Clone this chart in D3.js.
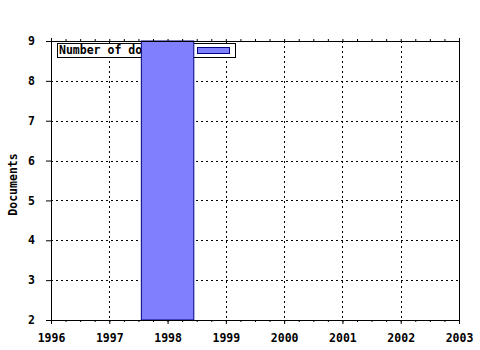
<!DOCTYPE html>
<html>
<head>
<meta charset="utf-8">
<script src="https://cdn.jsdelivr.net/npm/d3@7"></script>
<style>
  body { margin: 0; background: #fff; }
  text { font-family: "DejaVu Sans Mono", monospace; font-weight: bold; font-size: 11.5px; fill: #000; }
</style>
</head>
<body>
<div id="chart"></div>
<script>
// data
const years = [1998];
const counts = [9];
const seriesName = "Number of documents";
const xTicks = [1996, 1997, 1998, 1999, 2000, 2001, 2002, 2003];
const yTicks = [2, 3, 4, 5, 6, 7, 8, 9];

const W = 480, H = 350;
const margin = { top: 41, right: 21, bottom: 30, left: 51 };
const width = W - margin.left - margin.right;
const height = H - margin.top - margin.bottom;

const svg = d3.select("#chart").append("svg")
  .attr("width", W).attr("height", H);

const g = svg.append("g")
  .attr("transform", "translate(" + margin.left + "," + margin.top + ")");

const x = d3.scaleLinear().domain([1996, 2003]).range([0, width]);
const y = d3.scaleLinear().domain([2, 9]).range([height, 0]);

// grid
g.selectAll(".vgrid").data(xTicks.slice(1, -1)).enter().append("line")
  .attr("x1", d => Math.round(x(d)) + 0.5).attr("x2", d => Math.round(x(d)) + 0.5)
  .attr("y1", 0).attr("y2", height)
  .attr("stroke", "#000").attr("stroke-dasharray", "2,3");

g.selectAll(".hgrid").data(yTicks.slice(1, -1)).enter().append("line")
  .attr("y1", d => Math.round(y(d)) + 0.5).attr("y2", d => Math.round(y(d)) + 0.5)
  .attr("x1", 0).attr("x2", width)
  .attr("stroke", "#000").attr("stroke-dasharray", "2,3");

// legend (bar is drawn over it, as in the original)
const legend = g.append("g").attr("transform", "translate(6,2)");
legend.append("rect")
  .attr("x", 0.5).attr("y", 0.5).attr("width", 178).attr("height", 14)
  .attr("fill", "#fff").attr("stroke", "#000");
legend.append("text").attr("x", 2).attr("y", 11).text(seriesName);
legend.append("rect")
  .attr("x", 140.5).attr("y", 4.5).attr("width", 32).attr("height", 6)
  .attr("fill", "#8080ff").attr("stroke", "#000080");

// bars
const bw = x(1996.9) - x(1996);
g.selectAll(".bar").data(years).enter().append("rect")
  .attr("x", d => x(d) - bw / 2)
  .attr("y", (d, i) => y(counts[i]))
  .attr("width", bw)
  .attr("height", (d, i) => height - y(counts[i]))
  .attr("fill", "#8080ff").attr("stroke", "#000080");

// axes
const minor = d3.range(1996, 2003.001, 0.25);

const xAxis = g.append("g").attr("transform", "translate(0," + height + ")")
  .call(d3.axisBottom(x).tickValues(xTicks).tickFormat(d3.format("d")).tickSize(4).tickPadding(10));
xAxis.select(".domain").attr("d", "M0.5,0.5H" + width);
xAxis.selectAll("text").attr("font-size", null).attr("font-family", null);

g.append("g").call(d3.axisBottom(x).tickValues(minor).tickSize(2).tickFormat(""))
  .attr("transform", "translate(0," + height + ")")
  .select(".domain").remove();

g.append("g").call(d3.axisTop(x).tickValues(minor).tickSize(2).tickFormat(""))
  .select(".domain").attr("d", "M0,0.5H" + width);

const yAxis = g.append("g")
  .call(d3.axisLeft(y).tickValues(yTicks).tickFormat(d3.format("d")).tickSize(5).tickPadding(11));
yAxis.select(".domain").attr("d", "M0.5,-3V" + height);
yAxis.selectAll("text").attr("font-size", null).attr("font-family", null);

g.append("line")
  .attr("x1", width + 0.5).attr("x2", width + 0.5)
  .attr("y1", -3).attr("y2", height)
  .attr("stroke", "#000");

svg.append("text")
  .attr("transform", "translate(17," + (margin.top + height / 2 + 4) + ") rotate(-90)")
  .attr("text-anchor", "middle")
  .text("Documents");
</script>
</body>
</html>
